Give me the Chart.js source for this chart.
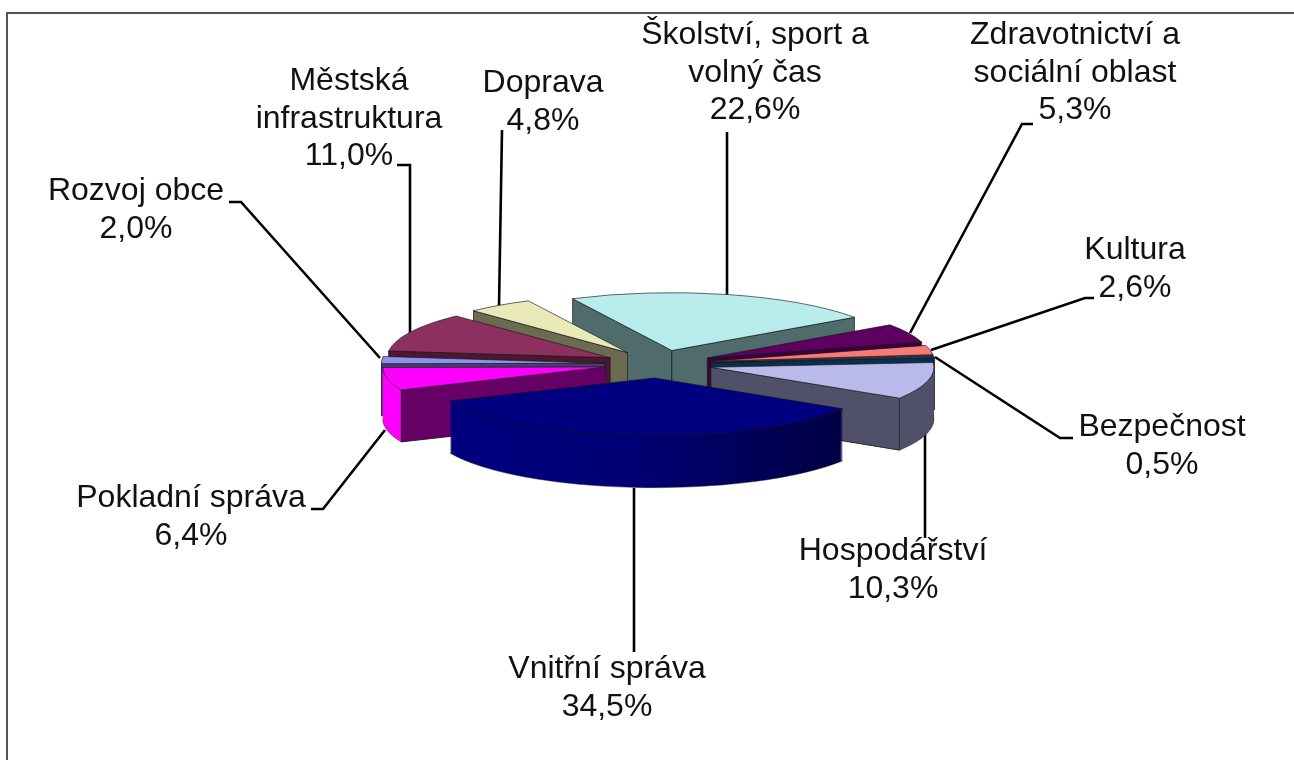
<!DOCTYPE html>
<html lang="cs">
<head>
<meta charset="utf-8">
<title>Výdaje podle oblastí</title>
<script src="https://cdn.jsdelivr.net/npm/chart.js@4/dist/chart.umd.min.js"></script>
<style>
html,body{margin:0;padding:0;background:#fff;overflow:hidden}
canvas{display:block}
</style>
</head>
<body>
<canvas id="c" width="1294" height="760"></canvas>
<script>
// ---- data ----
const categories = ["Školství, sport a volný čas","Zdravotnictví a sociální oblast","Kultura","Bezpečnost","Hospodářství","Vnitřní správa","Pokladní správa","Rozvoj obce","Městská infrastruktura","Doprava"];
const values = [22.6,5.3,2.6,0.5,10.3,34.5,6.4,2.0,11.0,4.8];

// ---- colours ----
const topColors  = ["#b9eded","#5e0060","#f57a78","#0b4f80","#babaea","#000080","#ff00ff","#8f8ff0","#8d2f5f","#eaeab8"];
const wallColors = ["#506b6b","#3c003e","#7a3c3c","#06304e","#50506a","#000060","#660066","#40406a","#4a1830","#6b6b50"];
const rimColors  = ["#506b6b","#3c003e","#7a3c3c","#06304e","#50506a","#000060","#ff00ff","#40406a","#4a1830","#6b6b50"];

// ---- text and leader layout ----
const labelLines = [
  ["Školství, sport a","volný čas"],["Zdravotnictví a","sociální oblast"],["Kultura"],["Bezpečnost"],["Hospodářství"],
  ["Vnitřní správa"],["Pokladní správa"],["Rozvoj obce"],["Městská","infrastruktura"],["Doprava"]
];
const labelCenterX = [755,1075,1135,1162,893,607,191,136,349,543];
const labelFirstY  = [35,35,250,427,551,669,498,191,81,83];
const labelStep = 37.7;
const leaders = [
  [[727,132],[727,296]],
  [[1033,124],[1022,124],[910,333]],
  [[1094,298],[1085,298],[931,350]],
  [[1073,438],[1060,438],[935,357]],
  [[925,538],[925,433]],
  [[634,652],[634,488]],
  [[311,509],[323,509],[385,430]],
  [[229,202],[241,202],[380,358]],
  [[397,165],[410,165],[410,335]],
  [[502,130],[499,306]]
];

// ---- 3D projection ----
const TILT = 0.259, DEPTH = 52, EXPLODE = 54, RADIUS = 223, ROTATION = -26.4;

const pie3d = {
  id: 'pie3d',
  beforeDraw(chart) {
    const c = chart.ctx;
    c.save();
    c.strokeStyle = '#555';
    c.lineWidth = 2;
    c.beginPath();
    c.moveTo(7, 760); c.lineTo(7, 13); c.lineTo(1294, 13);
    c.stroke();
    c.restore();
  },
  beforeDatasetDraw(chart) {
    const c = chart.ctx;
    const arcs = chart.getDatasetMeta(0).data;
    // leader lines lie behind the pie
    c.save();
    c.strokeStyle = '#000'; c.lineWidth = 2.6; c.lineJoin = 'miter';
    leaders.forEach(pts => {
      c.beginPath();
      pts.forEach((p, i) => i ? c.lineTo(p[0], p[1]) : c.moveTo(p[0], p[1]));
      c.stroke();
    });
    c.restore();

    const flat = (col) => ({backgroundColor: col, borderColor: col, borderWidth: 0, borderAlign: 'center',
      borderJoinStyle: 'round', borderRadius: 0, borderDash: [], borderDashOffset: 0, offset: 0, spacing: 0, circular: true});
    const mid = a => (a.startAngle + a.endAngle) / 2;
    const order = arcs.map((a, i) => i).sort((p, q) => Math.sin(mid(arcs[p])) - Math.sin(mid(arcs[q])));

    order.forEach(i => {
      const a = arcs[i], m = mid(a);
      const ex = Math.cos(m) * EXPLODE, ey = Math.sin(m) * EXPLODE;
      const place = (dy) => {
        c.translate(a.x, a.y); c.scale(1, TILT); c.translate(-a.x, -a.y);
        c.translate(ex, ey + dy / TILT);
      };
      const saved = a.options;
      // rim: the slice repeated downwards
      for (let d = DEPTH; d >= 1; d--) {
        c.save(); place(d);
        let fill = rimColors[i];
        if (i === 5) {
          const g = c.createLinearGradient(a.x - RADIUS, 0, a.x + RADIUS, 0);
          g.addColorStop(0, '#000080'); g.addColorStop(0.45, '#000074'); g.addColorStop(1, '#00003c');
          fill = g;
        }
        a.options = flat(fill);
        a.draw(c);
        c.restore();
      }
      const sx = (ang, r) => a.x + ex + r * Math.cos(ang);
      const sy = (ang, r) => a.y + TILT * (ey + r * Math.sin(ang));
      const tipX = a.x + ex, tipY = a.y + TILT * ey, r = a.outerRadius;
      // outline of lower rim
      c.save(); place(DEPTH);
      c.beginPath(); c.arc(a.x, a.y, r, a.startAngle, a.endAngle);
      c.restore();
      c.strokeStyle = 'rgba(40,40,40,.55)'; c.lineWidth = 0.8; c.stroke();
      // cut faces turned towards the viewer
      const wall = (ang) => {
        c.beginPath();
        c.moveTo(tipX, tipY);
        c.lineTo(sx(ang, r), sy(ang, r));
        c.lineTo(sx(ang, r), sy(ang, r) + DEPTH);
        c.lineTo(tipX, tipY + DEPTH);
        c.closePath();
        c.fillStyle = wallColors[i];
        c.fill();
        c.strokeStyle = '#222'; c.lineWidth = 0.8; c.stroke();
      };
      if (Math.cos(a.startAngle) < 0) wall(a.startAngle);
      if (Math.cos(a.endAngle) > 0) wall(a.endAngle);
      // top face
      c.save(); place(0);
      a.options = flat(topColors[i]);
      a.draw(c);
      c.beginPath();
      c.moveTo(a.x, a.y);
      c.arc(a.x, a.y, r, a.startAngle, a.endAngle);
      c.closePath();
      c.restore();
      c.strokeStyle = 'rgba(20,20,20,.8)'; c.lineWidth = 0.8; c.stroke();
      a.options = saved;
    });
    return false;
  },
  afterDraw(chart) {
    const c = chart.ctx;
    c.save();
    c.fillStyle = '#111';
    c.font = '32px "Liberation Sans", Arial, sans-serif';
    c.textAlign = 'center';
    c.textBaseline = 'middle';
    categories.forEach((name, i) => {
      const lines = labelLines[i].concat(values[i].toFixed(1).replace('.', ',') + '%');
      lines.forEach((t, n) => c.fillText(t, labelCenterX[i], labelFirstY[i] + n * labelStep));
    });
    c.restore();
  }
};

new Chart(document.getElementById('c'), {
  type: 'pie',
  data: { labels: categories, datasets: [{ data: values, backgroundColor: topColors, borderWidth: 0 }] },
  options: {
    responsive: false,
    animation: false,
    rotation: ROTATION,
    radius: RADIUS,
    layout: { padding: { left: 23, bottom: 32 } },
    events: [],
    plugins: { legend: { display: false }, tooltip: { enabled: false } }
  },
  plugins: [pie3d]
});
</script>
</body>
</html>
